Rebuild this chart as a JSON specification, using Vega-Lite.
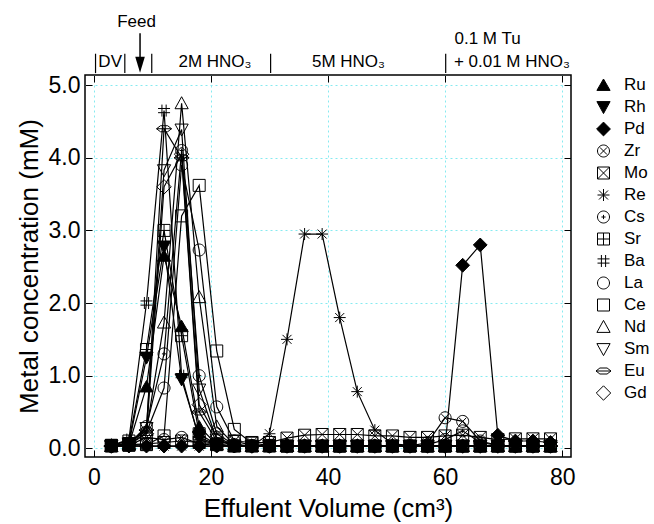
{
  "$schema": "https://vega.github.io/schema/vega-lite/v6.json",
  "autosize": "none",
  "width": 486,
  "height": 382,
  "padding": {"left": 85, "top": 75, "right": 83, "bottom": 67},
  "background": "white",
  "config": {
    "font": "Liberation Sans",
    "view": {"stroke": "black", "strokeWidth": 1.5},
    "axis": {
      "domain": false,
      "labelColor": "black",
      "titleColor": "black",
      "tickColor": "black",
      "tickWidth": 1,
      "gridColor": "#86eaf0",
      "gridDash": [2, 3],
      "gridWidth": 1,
      "labelFontSize": 23,
      "titleFontSize": 26,
      "titleFontWeight": "normal"
    },
    "text": {"font": "Liberation Sans"}
  },
  "datasets": {
    "conc": [
      {"vol": 3, "Ru": 0.03, "Rh": 0.03, "Pd": 0.03, "Zr": 0.03, "Mo": 0.04, "Re": 0.03, "Cs": 0.03, "Sr": 0.04, "Ba": 0.04, "La": 0.03, "Ce": 0.03, "Nd": 0.03, "Sm": 0.03, "Eu": 0.03, "Gd": 0.03},
      {"vol": 6, "Ru": 0.05, "Rh": 0.06, "Pd": 0.03, "Zr": 0.04, "Mo": 0.05, "Re": 0.03, "Cs": 0.06, "Sr": 0.1, "Ba": 0.12, "La": 0.05, "Ce": 0.04, "Nd": 0.06, "Sm": 0.07, "Eu": 0.08, "Gd": 0.05},
      {"vol": 9, "Ru": 0.85, "Rh": 1.25, "Pd": 0.03, "Zr": 0.15, "Mo": 0.06, "Re": 0.03, "Cs": 0.3, "Sr": 1.36, "Ba": 2.0, "La": 0.22, "Ce": 0.05, "Nd": 0.25, "Sm": 0.28, "Eu": 0.25, "Gd": 0.2},
      {"vol": 12, "Ru": 2.65, "Rh": 2.78, "Pd": 0.03, "Zr": 0.12, "Mo": 0.08, "Re": 0.03, "Cs": 1.3, "Sr": 3.0, "Ba": 4.65, "La": 0.83, "Ce": 0.17, "Nd": 1.73, "Sm": 3.83, "Eu": 4.4, "Gd": 3.6},
      {"vol": 15, "Ru": 1.68, "Rh": 0.95, "Pd": 0.03, "Zr": 0.15, "Mo": 0.1, "Re": 0.03, "Cs": 4.1, "Sr": 1.55, "Ba": 1.0, "La": 3.9, "Ce": 3.2, "Nd": 4.75, "Sm": 4.39, "Eu": 4.0, "Gd": 4.05},
      {"vol": 18, "Ru": 0.3, "Rh": 0.15, "Pd": 0.03, "Zr": 0.06, "Mo": 0.08, "Re": 0.03, "Cs": 1.0, "Sr": 0.2, "Ba": 0.12, "La": 2.73, "Ce": 3.62, "Nd": 2.08, "Sm": 0.81, "Eu": 0.5, "Gd": 0.6},
      {"vol": 21, "Ru": 0.05, "Rh": 0.05, "Pd": 0.03, "Zr": 0.04, "Mo": 0.06, "Re": 0.03, "Cs": 0.2, "Sr": 0.05, "Ba": 0.05, "La": 0.57, "Ce": 1.34, "Nd": 0.3, "Sm": 0.12, "Eu": 0.1, "Gd": 0.15},
      {"vol": 24, "Ru": 0.03, "Rh": 0.03, "Pd": 0.03, "Zr": 0.03, "Mo": 0.1, "Re": 0.03, "Cs": 0.05, "Sr": 0.03, "Ba": 0.03, "La": 0.1, "Ce": 0.26, "Nd": 0.05, "Sm": 0.04, "Eu": 0.04, "Gd": 0.04},
      {"vol": 27, "Ru": 0.03, "Rh": 0.03, "Pd": 0.03, "Zr": 0.03, "Mo": 0.08, "Re": 0.03, "Cs": 0.03, "Sr": 0.03, "Ba": 0.03, "La": 0.04, "Ce": 0.07, "Nd": 0.03, "Sm": 0.03, "Eu": 0.03, "Gd": 0.03},
      {"vol": 30, "Ru": 0.03, "Rh": 0.03, "Pd": 0.03, "Zr": 0.03, "Mo": 0.08, "Re": 0.2, "Cs": 0.03, "Sr": 0.03, "Ba": 0.03, "La": 0.03, "Ce": 0.04, "Nd": 0.03, "Sm": 0.03, "Eu": 0.03, "Gd": 0.03},
      {"vol": 33, "Ru": 0.03, "Rh": 0.03, "Pd": 0.03, "Zr": 0.03, "Mo": 0.14, "Re": 1.5, "Cs": 0.03, "Sr": 0.03, "Ba": 0.03, "La": 0.03, "Ce": 0.03, "Nd": 0.03, "Sm": 0.03, "Eu": 0.03, "Gd": 0.03},
      {"vol": 36, "Ru": 0.03, "Rh": 0.03, "Pd": 0.03, "Zr": 0.03, "Mo": 0.18, "Re": 2.95, "Cs": 0.03, "Sr": 0.03, "Ba": 0.03, "La": 0.03, "Ce": 0.03, "Nd": 0.03, "Sm": 0.03, "Eu": 0.03, "Gd": 0.03},
      {"vol": 39, "Ru": 0.03, "Rh": 0.03, "Pd": 0.03, "Zr": 0.03, "Mo": 0.19, "Re": 2.95, "Cs": 0.03, "Sr": 0.03, "Ba": 0.03, "La": 0.03, "Ce": 0.03, "Nd": 0.03, "Sm": 0.03, "Eu": 0.03, "Gd": 0.03},
      {"vol": 42, "Ru": 0.03, "Rh": 0.03, "Pd": 0.03, "Zr": 0.03, "Mo": 0.19, "Re": 1.8, "Cs": 0.03, "Sr": 0.03, "Ba": 0.03, "La": 0.03, "Ce": 0.03, "Nd": 0.03, "Sm": 0.03, "Eu": 0.03, "Gd": 0.03},
      {"vol": 45, "Ru": 0.03, "Rh": 0.03, "Pd": 0.03, "Zr": 0.03, "Mo": 0.19, "Re": 0.78, "Cs": 0.03, "Sr": 0.03, "Ba": 0.03, "La": 0.03, "Ce": 0.03, "Nd": 0.03, "Sm": 0.03, "Eu": 0.03, "Gd": 0.03},
      {"vol": 48, "Ru": 0.03, "Rh": 0.03, "Pd": 0.03, "Zr": 0.03, "Mo": 0.17, "Re": 0.25, "Cs": 0.03, "Sr": 0.03, "Ba": 0.03, "La": 0.03, "Ce": 0.03, "Nd": 0.03, "Sm": 0.03, "Eu": 0.03, "Gd": 0.03},
      {"vol": 51, "Ru": 0.03, "Rh": 0.03, "Pd": 0.03, "Zr": 0.03, "Mo": 0.17, "Re": 0.06, "Cs": 0.03, "Sr": 0.03, "Ba": 0.03, "La": 0.03, "Ce": 0.03, "Nd": 0.03, "Sm": 0.03, "Eu": 0.03, "Gd": 0.03},
      {"vol": 54, "Ru": 0.03, "Rh": 0.03, "Pd": 0.03, "Zr": 0.03, "Mo": 0.15, "Re": 0.04, "Cs": 0.03, "Sr": 0.03, "Ba": 0.03, "La": 0.03, "Ce": 0.03, "Nd": 0.03, "Sm": 0.03, "Eu": 0.03, "Gd": 0.03},
      {"vol": 57, "Ru": 0.03, "Rh": 0.03, "Pd": 0.03, "Zr": 0.08, "Mo": 0.15, "Re": 0.03, "Cs": 0.05, "Sr": 0.03, "Ba": 0.03, "La": 0.03, "Ce": 0.03, "Nd": 0.03, "Sm": 0.03, "Eu": 0.03, "Gd": 0.03},
      {"vol": 60, "Ru": 0.03, "Rh": 0.03, "Pd": 0.03, "Zr": 0.42, "Mo": 0.17, "Re": 0.03, "Cs": 0.12, "Sr": 0.03, "Ba": 0.03, "La": 0.03, "Ce": 0.03, "Nd": 0.03, "Sm": 0.03, "Eu": 0.03, "Gd": 0.03},
      {"vol": 63, "Ru": 0.03, "Rh": 0.03, "Pd": 2.52, "Zr": 0.37, "Mo": 0.18, "Re": 0.03, "Cs": 0.24, "Sr": 0.03, "Ba": 0.03, "La": 0.03, "Ce": 0.03, "Nd": 0.03, "Sm": 0.03, "Eu": 0.03, "Gd": 0.03},
      {"vol": 66, "Ru": 0.03, "Rh": 0.03, "Pd": 2.8, "Zr": 0.1, "Mo": 0.15, "Re": 0.03, "Cs": 0.08, "Sr": 0.03, "Ba": 0.03, "La": 0.03, "Ce": 0.03, "Nd": 0.03, "Sm": 0.03, "Eu": 0.03, "Gd": 0.03},
      {"vol": 69, "Ru": 0.03, "Rh": 0.03, "Pd": 0.18, "Zr": 0.04, "Mo": 0.12, "Re": 0.03, "Cs": 0.04, "Sr": 0.03, "Ba": 0.03, "La": 0.03, "Ce": 0.03, "Nd": 0.03, "Sm": 0.03, "Eu": 0.03, "Gd": 0.03},
      {"vol": 72, "Ru": 0.03, "Rh": 0.03, "Pd": 0.1, "Zr": 0.03, "Mo": 0.13, "Re": 0.03, "Cs": 0.03, "Sr": 0.03, "Ba": 0.03, "La": 0.03, "Ce": 0.03, "Nd": 0.03, "Sm": 0.03, "Eu": 0.03, "Gd": 0.03},
      {"vol": 75, "Ru": 0.03, "Rh": 0.03, "Pd": 0.1, "Zr": 0.03, "Mo": 0.13, "Re": 0.03, "Cs": 0.03, "Sr": 0.03, "Ba": 0.03, "La": 0.03, "Ce": 0.03, "Nd": 0.03, "Sm": 0.03, "Eu": 0.03, "Gd": 0.03},
      {"vol": 78, "Ru": 0.03, "Rh": 0.03, "Pd": 0.08, "Zr": 0.03, "Mo": 0.13, "Re": 0.03, "Cs": 0.03, "Sr": 0.03, "Ba": 0.03, "La": 0.03, "Ce": 0.03, "Nd": 0.03, "Sm": 0.03, "Eu": 0.03, "Gd": 0.03}
    ],
    "bounds": [{"vol": 0.3}, {"vol": 5.3}, {"vol": 9.9}, {"vol": 30.2}, {"vol": 60.1}],
    "ann": [
      {"label": "DV", "vol": 2.8},
      {"label": "2M HNO₃", "vol": 20.7},
      {"label": "5M HNO₃", "vol": 43.5},
      {"label": "+ 0.01 M HNO₃", "vol": 61.5},
      {"label": "0.1 M Tu", "vol": 61.6},
      {"label": "Feed", "vol": 7.3}
    ]
  },
  "layer": [
    {
      "data": {"name": "conc"},
      "transform": [{"fold": ["Ru", "Rh", "Pd", "Zr", "Mo", "Re", "Cs", "Sr", "Ba", "La", "Ce", "Nd", "Sm", "Eu", "Gd"], "as": ["metal", "c"]}],
      "mark": {"type": "line", "color": "black", "strokeWidth": 1.2},
      "encoding": {
        "x": {"field": "vol", "type": "quantitative", "scale": {"domain": [-1.5, 81.5], "nice": false, "zero": false},
          "axis": {"orient": "bottom", "values": [0, 20, 40, 60, 80], "title": "Effulent Volume (cm³)", "grid": true, "tickSize": -7, "labelPadding": 16, "titlePadding": 6}},
        "y": {"field": "c", "type": "quantitative", "scale": {"domain": [-0.12, 5.14], "nice": false, "zero": false},
          "axis": {"orient": "left", "values": [0, 1, 2, 3, 4, 5], "format": ".1f", "title": "Metal concentration (mM)", "grid": true, "tickSize": -7, "labelPadding": 12, "titlePadding": 6}},
        "detail": {"field": "metal", "type": "nominal"}
      }
    },
    {
      "data": {"name": "conc"},
      "transform": [{"fold": ["Ru", "Rh", "Pd", "Zr", "Mo", "Re", "Cs", "Sr", "Ba", "La", "Ce", "Nd", "Sm", "Eu", "Gd"], "as": ["metal", "c"]}],
      "mark": {"type": "point", "stroke": "black", "strokeWidth": 1, "size": 144, "opacity": 1},
      "encoding": {
        "x": {"field": "vol", "type": "quantitative", "scale": {"domain": [-1.5, 81.5], "nice": false, "zero": false},
          "axis": {"orient": "top", "values": [0, 20, 40, 60, 80], "labels": false, "title": null, "grid": false, "tickSize": -7}},
        "y": {"field": "c", "type": "quantitative", "scale": {"domain": [-0.12, 5.14], "nice": false, "zero": false},
          "axis": {"orient": "right", "values": [0, 1, 2, 3, 4, 5], "labels": false, "title": null, "grid": false, "tickSize": -7}},
        "shape": {"field": "metal", "type": "nominal",
          "scale": {
            "domain": ["Ru", "Rh", "Pd", "Zr", "Mo", "Re", "Cs", "Sr", "Ba", "La", "Ce", "Nd", "Sm", "Eu", "Gd"],
            "range": [
              "M0,-1L1.1,0.9L-1.1,0.9Z",
              "M-1.1,-0.9L1.1,-0.9L0,1.1Z",
              "M0,-1.15L1.15,0L0,1.15L-1.15,0Z",
              "M1,0A1,1 0 1 1 -1,0A1,1 0 1 1 1,0ZM-0.6,-0.6L0.6,0.6M-0.6,0.6L0.6,-0.6",
              "M-1,-1H1V1H-1ZM-1,-1L1,1M-1,1L1,-1",
              "M-1,0H1M0,-1V1M-0.75,-0.75L0.75,0.75M-0.75,0.75L0.75,-0.75",
              "M1,0A1,1 0 1 1 -1,0A1,1 0 1 1 1,0ZM-0.35,0H0.35M0,-0.35V0.35",
              "M-1,-1H1V1H-1ZM-1,0H1M0,-1V1",
              "M-0.35,-1V1M0.35,-1V1M-1,-0.35H1M-1,0.35H1",
              "M1,0A1,1 0 1 1 -1,0A1,1 0 1 1 1,0Z",
              "M-1,-1H1V1H-1Z",
              "M0,-1.1L1.1,0.9L-1.1,0.9Z",
              "M-1.1,-0.9L1.1,-0.9L0,1.1Z",
              "M-1.25,0L-0.6,-0.5H0.6L1.25,0L0.6,0.5H-0.6ZM-1.25,0H1.25",
              "M0,-1.2L1.2,0L0,1.2L-1.2,0Z"
            ]
          },
          "legend": {
            "title": null,
            "orient": "right",
            "offset": 23,
            "padding": 0,
            "labelFontSize": 17,
            "labelColor": "black",
            "labelOffset": 12,
            "symbolSize": 144,
            "symbolStrokeColor": "black",
            "symbolStrokeWidth": 1,
            "clipHeight": 20,
            "rowPadding": 2,
            "encoding": {"symbols": {
              "stroke": {"value": "black"},
              "strokeWidth": {"value": 1},
              "opacity": {"value": 1}
            }}
          }
        },
        "fill": {"field": "metal", "type": "nominal",
          "scale": {
            "domain": ["Ru", "Rh", "Pd", "Zr", "Mo", "Re", "Cs", "Sr", "Ba", "La", "Ce", "Nd", "Sm", "Eu", "Gd"],
            "range": ["black", "black", "black", "transparent", "transparent", "transparent", "transparent", "transparent", "transparent", "transparent", "transparent", "transparent", "transparent", "transparent", "transparent"]
          }
        }
      }
    },
    {
      "data": {"name": "bounds"},
      "mark": {"type": "rule", "color": "black", "strokeWidth": 1.2},
      "encoding": {
        "x": {"field": "vol", "type": "quantitative", "axis": null},
        "y": {"datum": 5.166, "axis": null},
        "y2": {"datum": 5.433}
      }
    },
    {
      "data": {"values": [{}]},
      "mark": {"type": "rule", "color": "black", "strokeWidth": 1.5},
      "encoding": {
        "x": {"datum": 7.9, "axis": null},
        "y": {"datum": 5.716, "axis": null},
        "y2": {"datum": 5.3}
      }
    },
    {
      "data": {"values": [{}]},
      "mark": {"type": "point", "shape": "M-0.6,-1H0.6L0,1Z", "size": 256, "filled": true, "color": "black", "opacity": 1},
      "encoding": {
        "x": {"datum": 7.9, "axis": null},
        "y": {"datum": 5.28, "axis": null}
      }
    },
    {
      "data": {"name": "ann"},
      "transform": [{"filter": "datum.label == 'DV' || datum.label == '2M HNO₃' || datum.label == '5M HNO₃'"}],
      "mark": {"type": "text", "fontSize": 17, "color": "black", "align": "center", "baseline": "alphabetic"},
      "encoding": {
        "x": {"field": "vol", "type": "quantitative", "axis": null},
        "y": {"datum": 5.25, "axis": null},
        "text": {"field": "label"}
      }
    },
    {
      "data": {"name": "ann"},
      "transform": [{"filter": "datum.label == '+ 0.01 M HNO₃'"}],
      "mark": {"type": "text", "fontSize": 17, "color": "black", "align": "left", "baseline": "alphabetic"},
      "encoding": {
        "x": {"field": "vol", "type": "quantitative", "axis": null},
        "y": {"datum": 5.25, "axis": null},
        "text": {"field": "label"}
      }
    },
    {
      "data": {"name": "ann"},
      "transform": [{"filter": "datum.label == '0.1 M Tu'"}],
      "mark": {"type": "text", "fontSize": 17, "color": "black", "align": "left", "baseline": "alphabetic"},
      "encoding": {
        "x": {"field": "vol", "type": "quantitative", "axis": null},
        "y": {"datum": 5.57, "axis": null},
        "text": {"field": "label"}
      }
    },
    {
      "data": {"name": "ann"},
      "transform": [{"filter": "datum.label == 'Feed'"}],
      "mark": {"type": "text", "fontSize": 17, "color": "black", "align": "center", "baseline": "alphabetic"},
      "encoding": {
        "x": {"field": "vol", "type": "quantitative", "axis": null},
        "y": {"datum": 5.8, "axis": null},
        "text": {"field": "label"}
      }
    }
  ],
  "resolve": {"axis": {"x": "independent", "y": "independent"}}
}
